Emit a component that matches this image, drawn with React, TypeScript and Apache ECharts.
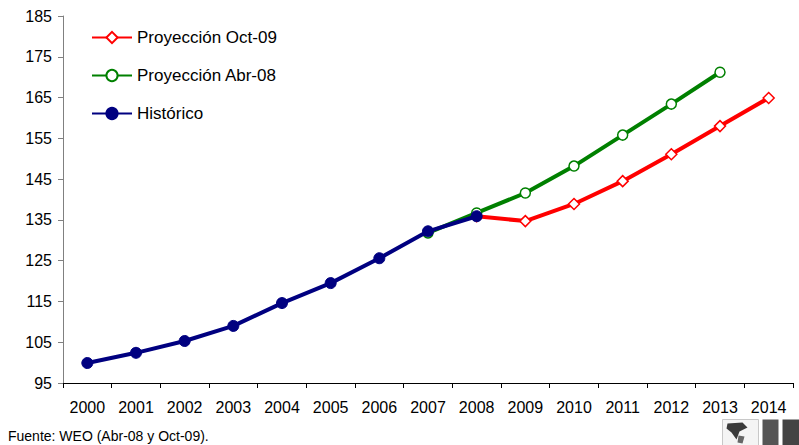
import React, { useEffect, useRef } from "react";
import * as echarts from "echarts";

const years = ["2000","2001","2002","2003","2004","2005","2006","2007","2008","2009","2010","2011","2012","2013","2014"];
const historico = [99.9, 102.4, 105.3, 109.0, 114.6, 119.5, 125.6, 132.2, 135.9, null, null, null, null, null, null];
const proyAbr08 = [null, null, null, null, null, null, null, 131.8, 136.7, 141.6, 148.2, 155.8, 163.4, 171.2, null];
const proyOct09 = [null, null, null, null, null, null, null, null, 135.9, 134.7, 138.9, 144.5, 151.1, 158.0, 164.9];
const yTicks = { min: 95, max: 185, interval: 10 };
const footer = "Fuente: WEO (Abr-08 y Oct-09).";

export default function App() {
  const ref = useRef<HTMLDivElement>(null);
  useEffect(() => {
    if (!ref.current) return;
    const chart = echarts.init(ref.current, null, { renderer: "svg" });
    const font = "Liberation Sans, Arial, sans-serif";
    chart.setOption({
      animation: false,
      textStyle: { fontFamily: font },
      grid: { left: 63, right: 6, top: 16, bottom: 62 },
      legend: {
        orient: "vertical",
        left: 86,
        top: 24,
        itemWidth: 40,
        itemHeight: 14,
        itemGap: 21,
        textStyle: { fontSize: 17, color: "#000", fontFamily: font },
        data: ["Proyección Oct-09", "Proyección Abr-08", "Histórico"],
      },
      xAxis: {
        type: "category",
        data: years,
        boundaryGap: true,
        axisLine: { lineStyle: { color: "#000", width: 1 } },
        axisTick: { show: true, length: 5, lineStyle: { color: "#000" } },
        axisLabel: { fontSize: 16, color: "#000", margin: 16, fontFamily: font },
        splitLine: { show: false },
      },
      yAxis: {
        type: "value",
        min: yTicks.min,
        max: yTicks.max,
        interval: yTicks.interval,
        axisLine: { show: true, lineStyle: { color: "#808080", width: 1 } },
        axisTick: { show: true, length: 5, lineStyle: { color: "#808080" } },
        axisLabel: { fontSize: 16, color: "#000", margin: 11, fontFamily: font },
        splitLine: { show: false },
      },
      series: [
        {
          name: "Proyección Oct-09",
          type: "line",
          data: proyOct09,
          symbol: "diamond",
          symbolSize: 11,
          lineStyle: { color: "#FF0000", width: 4 },
          itemStyle: { color: "#FFFFFF", borderColor: "#FF0000", borderWidth: 1.5 },
          z: 2,
        },
        {
          name: "Proyección Abr-08",
          type: "line",
          data: proyAbr08,
          symbol: "circle",
          symbolSize: 10,
          lineStyle: { color: "#008000", width: 4 },
          itemStyle: { color: "#FFFFFF", borderColor: "#008000", borderWidth: 1.5 },
          z: 3,
        },
        {
          name: "Histórico",
          type: "line",
          data: historico,
          symbol: "circle",
          symbolSize: 11,
          lineStyle: { color: "#000080", width: 4 },
          itemStyle: { color: "#000080", borderColor: "#000080", borderWidth: 1 },
          z: 4,
        },
      ],
      graphic: [
        {
          type: "text",
          left: 8,
          top: 429,
          style: { text: footer, fill: "#000", font: `14px ${font}` },
        },
        {
          type: "group",
          left: 722,
          top: 419,
          children: [
            { type: "rect", shape: { x: 0, y: 0, width: 36, height: 26 }, style: { fill: "#f4f4f4", stroke: "#c8c8c8", lineWidth: 1 } },
            { type: "polygon", shape: { points: [[5, 4], [20, 3], [25, 8], [17, 12], [14, 20], [9, 13], [4, 9]] }, style: { fill: "#3a3a3a" } },
            { type: "polygon", shape: { points: [[16, 16], [22, 17], [20, 24], [15, 23]] }, style: { fill: "#666666" } },
            { type: "rect", shape: { x: 40, y: 0, width: 16, height: 26 }, style: { fill: "#555555" } },
            { type: "rect", shape: { x: 60, y: 0, width: 17, height: 26 }, style: { fill: "#444444" } },
          ],
        },
      ],
    });
    return () => chart.dispose();
  }, []);
  return <div ref={ref} style={{ position: "absolute", left: 0, top: 0, width: 799, height: 445 }} />;
}
